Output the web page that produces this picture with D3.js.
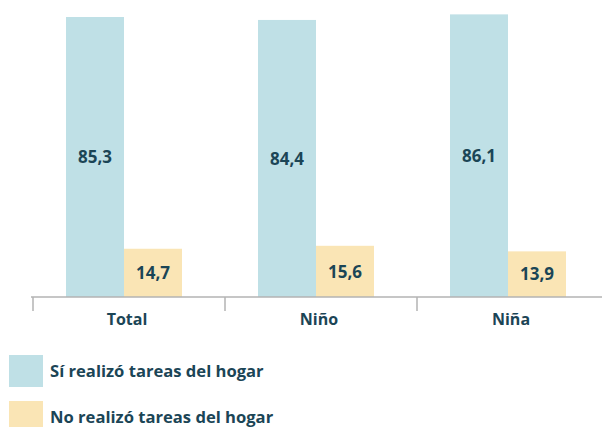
<!DOCTYPE html>
<html>
<head>
<meta charset="utf-8">
<script src="https://cdn.jsdelivr.net/npm/d3@7"></script>
<style>
  body { margin: 0; background: #fff; }
  text { font-family: "Open Sans", Lato, sans-serif; font-weight: 700; fill: #1b4556; }
</style>
</head>
<body>
<div id="chart"></div>
<script>
var categories = ["Total", "Niño", "Niña"];
var series = ["Sí realizó tareas del hogar", "No realizó tareas del hogar"];
var siValues = [85.3, 84.4, 86.1];
var noValues = [14.7, 15.6, 13.9];
var colors = ["#bfe0e6", "#fae5b5"];

var svgWidth = 602;
var svgHeight = 427;
var baseY = 297;

var svg = d3.select("#chart")
  .append("svg")
  .attr("width", svgWidth)
  .attr("height", svgHeight);

// scales
var xScale = d3.scaleBand()
  .domain(categories)
  .range([31, 607]);

var yScale = d3.scaleLinear()
  .domain([0, 85.3])
  .range([baseY, 17]);

var barW = 58;

// bars
var groups = svg.selectAll("g.cat")
  .data(categories)
  .enter()
  .append("g")
  .attr("class", "cat")
  .attr("transform", function(d) {
    return "translate(" + (xScale(d) + xScale.bandwidth() / 2 - 3) + ",0)";
  });

var allValues = [siValues, noValues];
allValues.forEach(function(vals, s) {
  groups.append("rect")
    .attr("x", s === 0 ? -barW : 0)
    .attr("y", function(d, i) { return yScale(vals[i]); })
    .attr("width", barW)
    .attr("height", function(d, i) { return baseY - yScale(vals[i]); })
    .attr("fill", colors[s]);

  groups.append("text")
    .attr("x", s === 0 ? -barW / 2 : barW / 2)
    .attr("y", function(d, i) { return (yScale(vals[i]) + baseY) / 2; })
    .attr("dy", "0.36em")
    .attr("text-anchor", "middle")
    .style("font-size", "17px")
    .text(function(d, i) { return vals[i].toFixed(1).replace(".", ","); });
});

// axis
var xAxis = d3.axisBottom(xScale)
  .tickSize(0)
  .tickPadding(17);
var axisG = svg.append("g")
  .attr("transform", "translate(0," + baseY + ")")
  .call(xAxis);
axisG.select(".domain").remove();
axisG.selectAll("text")
  .style("font-size", "16px")
  .style("font-family", "\"Open Sans\", sans-serif")
  .attr("fill", "#1b4556");

axisG.append("line")
  .attr("x1", xScale.range()[0]).attr("x2", xScale.range()[1])
  .attr("stroke", "#b3b3b3").attr("stroke-width", 1.5);
axisG.selectAll("line.sep")
  .data(categories.concat([null]))
  .enter()
  .append("line")
  .attr("class", "sep")
  .attr("x1", function(d) { return d ? xScale(d) + 2 : xScale.range()[1]; })
  .attr("x2", function(d) { return d ? xScale(d) + 2 : xScale.range()[1]; })
  .attr("y1", 0).attr("y2", 14)
  .attr("stroke", "#b3b3b3").attr("stroke-width", 1.5);

// legend
var legend = svg.selectAll("g.legend")
  .data(series)
  .enter()
  .append("g")
  .attr("class", "legend")
  .attr("transform", function(d, i) { return "translate(9," + (355 + i * 46) + ")"; });
legend.append("rect")
  .attr("width", 34).attr("height", 32)
  .attr("fill", function(d, i) { return colors[i]; });
legend.append("text")
  .attr("x", 41).attr("y", 16).attr("dy", "0.36em")
  .style("font-size", "16.6px")
  .text(function(d) { return d; });
</script>
</body>
</html>
